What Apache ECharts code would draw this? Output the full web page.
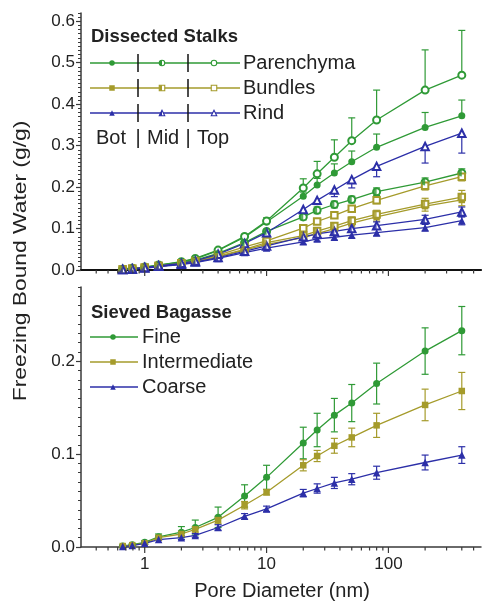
<!DOCTYPE html>
<html><head><meta charset="utf-8">
<script src="https://cdn.jsdelivr.net/npm/echarts@6/dist/echarts.min.js"></script>
<style>html,body{margin:0;padding:0;background:#fff}#c{width:482px;height:602px}</style>
</head><body><div id="c"></div><script>
// ---------------- data ----------------
const PORE = [0.66, 0.79, 1.0, 1.3, 2.0, 2.6, 4.0, 6.6, 10, 20, 26, 36, 50, 80, 200, 400];

// Dissected stalks (top panel)
const PAR_BOT = [0.002, 0.004, 0.007, 0.012, 0.019, 0.027, 0.047, 0.079, 0.116, 0.178, 0.205, 0.234, 0.261, 0.296, 0.344, 0.372];
const PAR_MID = [0.002, 0.004, 0.006, 0.011, 0.017, 0.024, 0.040, 0.066, 0.093, 0.128, 0.144, 0.158, 0.170, 0.189, 0.212, 0.234];
const PAR_TOP = [0.002, 0.004, 0.007, 0.012, 0.020, 0.028, 0.048, 0.081, 0.118, 0.198, 0.232, 0.272, 0.312, 0.362, 0.434, 0.470];
const BUN_BOT = [0.001, 0.003, 0.005, 0.009, 0.015, 0.020, 0.032, 0.048, 0.062, 0.078, 0.088, 0.100, 0.113, 0.128, 0.154, 0.169];
const BUN_MID = [0.001, 0.003, 0.005, 0.009, 0.015, 0.021, 0.033, 0.050, 0.066, 0.083, 0.094, 0.106, 0.119, 0.134, 0.159, 0.176];
const BUN_TOP = [0.001, 0.003, 0.006, 0.010, 0.016, 0.022, 0.036, 0.056, 0.070, 0.101, 0.117, 0.132, 0.148, 0.168, 0.203, 0.225];
const RIND_BOT = [0.001, 0.002, 0.004, 0.008, 0.013, 0.018, 0.028, 0.042, 0.053, 0.068, 0.075, 0.079, 0.084, 0.090, 0.102, 0.119];
const RIND_MID = [0.001, 0.002, 0.005, 0.009, 0.014, 0.019, 0.030, 0.045, 0.058, 0.080, 0.087, 0.093, 0.100, 0.107, 0.122, 0.140];
const RIND_TOP = [0.001, 0.003, 0.006, 0.010, 0.016, 0.022, 0.038, 0.064, 0.090, 0.146, 0.168, 0.193, 0.218, 0.250, 0.298, 0.330];

const PAR_BOT_ERR = [0, 0, 0, 0, 0, 0, 0.002, 0.004, 0.006, 0.010, 0.016, 0.022, 0.026, 0.032, 0.036, 0.038];
const PAR_MID_ERR = [0, 0, 0, 0, 0, 0, 0.002, 0.004, 0.005, 0.007, 0.008, 0.008, 0.008, 0.009, 0.010, 0.010];
const PAR_TOP_ERR = [0, 0, 0, 0, 0, 0, 0.003, 0.005, 0.008, 0.022, 0.030, 0.042, 0.055, 0.072, 0.097, 0.108];
const BUN_BOT_ERR = [0, 0, 0, 0, 0, 0, 0.002, 0.003, 0.004, 0.006, 0.007, 0.008, 0.009, 0.010, 0.012, 0.014];
const BUN_MID_ERR = [0, 0, 0, 0, 0, 0, 0.002, 0.003, 0.004, 0.006, 0.007, 0.008, 0.009, 0.010, 0.014, 0.016];
const BUN_TOP_ERR = [0, 0, 0, 0, 0, 0, 0.002, 0.004, 0.005, 0.006, 0.007, 0.007, 0.008, 0.008, 0.010, 0.010];
const RIND_BOT_ERR = [0, 0, 0, 0, 0, 0, 0.002, 0.003, 0.004, 0.006, 0.006, 0.007, 0.007, 0.008, 0.008, 0.010];
const RIND_MID_ERR = [0, 0, 0, 0, 0, 0, 0.002, 0.003, 0.004, 0.006, 0.007, 0.008, 0.008, 0.009, 0.010, 0.012];
const RIND_TOP_ERR = [0, 0, 0, 0, 0, 0, 0.003, 0.005, 0.006, 0.008, 0.010, 0.016, 0.020, 0.025, 0.040, 0.048];

// Sieved bagasse (bottom panel)
const FINE = [0.001, 0.0025, 0.005, 0.011, 0.016, 0.021, 0.032, 0.055, 0.075, 0.112, 0.126, 0.142, 0.155, 0.176, 0.211, 0.233];
const INTER = [0.001, 0.002, 0.004, 0.010, 0.014, 0.019, 0.029, 0.045, 0.059, 0.088, 0.098, 0.109, 0.118, 0.131, 0.153, 0.168];
const COARSE = [0.0005, 0.0015, 0.004, 0.008, 0.010, 0.0125, 0.021, 0.033, 0.041, 0.058, 0.063, 0.069, 0.073, 0.080, 0.091, 0.099];
const FINE_ERR = [0.001, 0.001, 0.002, 0.003, 0.006, 0.008, 0.011, 0.012, 0.013, 0.017, 0.018, 0.018, 0.020, 0.022, 0.025, 0.026];
const INTER_ERR = [0.001, 0.001, 0.001, 0.002, 0.003, 0.003, 0.004, 0.004, 0.003, 0.006, 0.006, 0.008, 0.010, 0.013, 0.017, 0.020];
const COARSE_ERR = [0.001, 0.001, 0.001, 0.001, 0.002, 0.002, 0.003, 0.003, 0.003, 0.004, 0.005, 0.006, 0.006, 0.007, 0.008, 0.009];

// axis ticks / labels
const X_MAJOR_TICKS = [1, 10, 100];
const X_MINOR_TICKS = [0.4, 0.5, 0.6, 0.7, 0.8, 0.9, 2, 3, 4, 5, 6, 7, 8, 9, 20, 30, 40, 50, 60, 70, 80, 90, 200, 300, 400, 500];
const X_MIN = 0.3, X_MAX = 575;
const Y_TOP_MAX = 0.62, Y_BOT_MAX = 0.28;

// ---------------- styling ----------------
const GREEN = '#2f9a36', OLIVE = '#a59b2b', BLUE = '#2c2fa8';
const AXIS = '#3a3a3a';
const FONT = '"Liberation Sans", Arial, Helvetica, sans-serif';
const HALF = {
  circle: 'path://M10,0 A10,10 0 0 0 10,20 Z M20,10 L20,10',
  triangle: 'path://M10,0 L0,20 L10,20 Z M20,20 L20,20',
  rect: 'path://M0,0 L10,0 L10,20 L0,20 Z M20,0 L20,0'
};
const SIZE = { circle: 7, triangle: 7.5, rect: 6.5 };

const chart = echarts.init(document.getElementById('c'), null, { renderer: 'canvas' });

function pairs(ys) { return PORE.map((x, i) => [x, ys[i]]); }

function lineSeries(name, ys, color, shape, fill, xi, yi) {
  const sym = fill === 'full' ? shape : 'empty' + shape.charAt(0).toUpperCase() + shape.slice(1);
  return {
    type: 'line', name, xAxisIndex: xi, yAxisIndex: yi, data: pairs(ys), z: 3,
    symbol: sym, symbolSize: SIZE[shape], showSymbol: true, silent: true,
    lineStyle: { color, width: 1.3 },
    itemStyle: { color, borderColor: color, borderWidth: fill === 'full' ? 0 : 1.2 }
  };
}
function halfSeries(name, ys, color, shape, xi, yi) {
  return {
    type: 'scatter', name: name + ' half', xAxisIndex: xi, yAxisIndex: yi, data: pairs(ys), z: 4,
    symbol: HALF[shape], symbolKeepAspect: true, symbolSize: SIZE[shape], silent: true,
    itemStyle: { color, borderWidth: 0 }
  };
}
function errSeries(name, ys, err, dir, color, xi, yi) {
  return {
    type: 'custom', name: name + ' err', xAxisIndex: xi, yAxisIndex: yi, z: 2, silent: true, clip: false,
    data: PORE.map((x, i) => [x, ys[i], err[i]]),
    renderItem: function (params, api) {
      const x = api.value(0), y = api.value(1), e = api.value(2);
      if (!(e > 0)) return { type: 'group', children: [] };
      const hi = dir === 'down' ? y : y + e;
      const lo = dir === 'up' ? y : y - e;
      const ph = api.coord([x, hi]), pl = api.coord([x, lo]);
      const st = { stroke: color, lineWidth: 1.2 };
      const ch = [{ type: 'line', shape: { x1: ph[0], y1: ph[1], x2: pl[0], y2: pl[1] }, style: st }];
      if (dir !== 'down') ch.push({ type: 'line', shape: { x1: ph[0] - 3.5, y1: ph[1], x2: ph[0] + 3.5, y2: ph[1] }, style: st });
      if (dir !== 'up') ch.push({ type: 'line', shape: { x1: pl[0] - 3.5, y1: pl[1], x2: pl[0] + 3.5, y2: pl[1] }, style: st });
      return { type: 'group', children: ch };
    }
  };
}
function tickSeries(ticks, len, xi, yi) {
  return {
    type: 'custom', xAxisIndex: xi, yAxisIndex: yi, z: 5, silent: true, clip: false,
    data: ticks.map(v => [v, 0]),
    renderItem: function (params, api) {
      const p = api.coord([api.value(0), 0]);
      return { type: 'line', shape: { x1: p[0], y1: p[1], x2: p[0], y2: p[1] + len }, style: { stroke: AXIS, lineWidth: 1.2 } };
    }
  };
}

const TOP_SERIES = [
  ['Parenchyma Bot', PAR_BOT, PAR_BOT_ERR, 'up', GREEN, 'circle', 'full'],
  ['Parenchyma Mid', PAR_MID, PAR_MID_ERR, 'both', GREEN, 'circle', 'half'],
  ['Parenchyma Top', PAR_TOP, PAR_TOP_ERR, 'up', GREEN, 'circle', 'open'],
  ['Bundles Bot', BUN_BOT, BUN_BOT_ERR, 'both', OLIVE, 'rect', 'full'],
  ['Bundles Mid', BUN_MID, BUN_MID_ERR, 'up', OLIVE, 'rect', 'half'],
  ['Bundles Top', BUN_TOP, BUN_TOP_ERR, 'down', OLIVE, 'rect', 'open'],
  ['Rind Bot', RIND_BOT, RIND_BOT_ERR, 'both', BLUE, 'triangle', 'full'],
  ['Rind Mid', RIND_MID, RIND_MID_ERR, 'both', BLUE, 'triangle', 'half'],
  ['Rind Top', RIND_TOP, RIND_TOP_ERR, 'down', BLUE, 'triangle', 'open']
];
const BOT_SERIES = [
  ['Fine', FINE, FINE_ERR, 'both', GREEN, 'circle', 'full'],
  ['Intermediate', INTER, INTER_ERR, 'both', OLIVE, 'rect', 'full'],
  ['Coarse', COARSE, COARSE_ERR, 'both', BLUE, 'triangle', 'full']
];

const series = [];
function addSet(list, xi, yi) {
  list.forEach(([name, ys, err, dir, color, shape, fill]) => {
    series.push(errSeries(name, ys, err, dir, color, xi, yi));
    series.push(lineSeries(name, ys, color, shape, fill, xi, yi));
    if (fill === 'half') series.push(halfSeries(name, ys, color, shape, xi, yi));
  });
}
addSet(TOP_SERIES, 0, 0);
addSet(BOT_SERIES, 2, 2);
series.push(tickSeries(X_MAJOR_TICKS, 6, 0, 0), tickSeries(X_MINOR_TICKS, 3.5, 0, 0));
series.push(tickSeries(X_MAJOR_TICKS, 6, 2, 2), tickSeries(X_MINOR_TICKS, 3.5, 2, 2));

// ---------------- legends (graphic) ----------------
function marker(shape, fill, cx, cy, color, s) {
  const out = [];
  const h = s / 2;
  const open = { fill: '#fff', stroke: color, lineWidth: 1.1 };
  const solid = { fill: color };
  if (shape === 'circle') {
    out.push({ type: 'circle', shape: { cx, cy, r: h }, style: fill === 'full' ? solid : open });
    if (fill === 'half') out.push({ type: 'sector', shape: { cx, cy, r: h, r0: 0, startAngle: Math.PI / 2, endAngle: Math.PI * 1.5 }, style: solid });
  } else if (shape === 'rect') {
    out.push({ type: 'rect', shape: { x: cx - h, y: cy - h, width: s, height: s }, style: fill === 'full' ? solid : open });
    if (fill === 'half') out.push({ type: 'rect', shape: { x: cx - h, y: cy - h, width: h, height: s }, style: solid });
  } else {
    out.push({ type: 'polygon', shape: { points: [[cx, cy - h], [cx + h, cy + h], [cx - h, cy + h]] }, style: fill === 'full' ? solid : open });
    if (fill === 'half') out.push({ type: 'polygon', shape: { points: [[cx, cy - h], [cx, cy + h], [cx - h, cy + h]] }, style: solid });
  }
  return out;
}
function text(t, x, y, size, opts) {
  return Object.assign({ type: 'text', x, y, z: 10, style: { text: t, font: size + 'px ' + FONT, fill: '#222', align: 'left', verticalAlign: 'middle' } }, opts || {});
}

const graphic = [];
// top legend
graphic.push(text('Dissected Stalks', 91, 37, 18.5, {}));
graphic[graphic.length - 1].style.font = 'bold 18.5px ' + FONT;
const TOP_LEG = [['Parenchyma', GREEN, 'circle', 63], ['Bundles', OLIVE, 'rect', 88], ['Rind', BLUE, 'triangle', 113]];
TOP_LEG.forEach(([label, color, shape, cy]) => {
  graphic.push({ type: 'line', z: 9, shape: { x1: 90, y1: cy, x2: 240, y2: cy }, style: { stroke: color, lineWidth: 1.3 } });
  graphic.push({ type: 'line', z: 9, shape: { x1: 138, y1: cy - 9, x2: 138, y2: cy + 9 }, style: { stroke: '#111', lineWidth: 1.5 } });
  graphic.push({ type: 'line', z: 9, shape: { x1: 188, y1: cy - 9, x2: 188, y2: cy + 9 }, style: { stroke: '#111', lineWidth: 1.5 } });
  [['full', 112], ['half', 162], ['open', 214]].forEach(([f, cx]) => marker(shape, f, cx, cy, color, 5.5).forEach(m => { m.z = 10; graphic.push(m); }));
  graphic.push(text(label, 243, cy, 20));
});
graphic.push(text('Bot', 96, 138, 20));
graphic.push(text('|', 138, 138, 20, {}));
graphic[graphic.length - 1].style.align = 'center';
graphic.push(text('Mid', 147, 138, 20));
graphic.push(text('|', 188, 138, 20, {}));
graphic[graphic.length - 1].style.align = 'center';
graphic.push(text('Top', 197, 138, 20));

// bottom legend
graphic.push(text('Sieved Bagasse', 91, 312.5, 18.5));
graphic[graphic.length - 1].style.font = 'bold 18.5px ' + FONT;
BOT_SERIES.forEach(([name, , , , color, shape], i) => {
  const cy = 337 + i * 25;
  graphic.push({ type: 'line', z: 9, shape: { x1: 90, y1: cy, x2: 138, y2: cy }, style: { stroke: color, lineWidth: 1.3 } });
  marker(shape, 'full', 113, cy, color, 5.5).forEach(m => { m.z = 10; graphic.push(m); });
  graphic.push(text(name, 142, cy, 20));
});

// axis titles
graphic.push(text('Freezing Bound Water (g/g)', 21, 261, 19, { rotation: Math.PI / 2, scaleX: 1.2 }));
graphic[graphic.length - 1].style.align = 'center';
graphic.push(text('Pore Diameter (nm)', 282, 591, 20));
graphic[graphic.length - 1].style.align = 'center';

// ---------------- axes ----------------
function isPow10(v) { const l = Math.log10(v); return Math.abs(l - Math.round(l)) < 1e-6; }
const axisLine = { show: true, lineStyle: { color: AXIS, width: 1.5 } };
function logX(grid, labels, position) {
  return {
    type: 'log', logBase: 10, gridIndex: grid, min: X_MIN, max: X_MAX, position: position || 'bottom',
    axisLine: position === 'top' ? { show: true, lineStyle: { color: '#111', width: 2 } } : axisLine,
    axisTick: { show: false }, splitLine: { show: false }, minorTick: { show: false },
    axisLabel: {
      show: labels, margin: 9, fontSize: 17, fontFamily: FONT, color: '#222',
      showMinLabel: false, showMaxLabel: false,
      formatter: v => isPow10(v) ? String(Math.round(v)) : ''
    }
  };
}
function yMain(grid, max) {
  return {
    type: 'value', gridIndex: grid, min: 0, max, interval: 0.1, position: 'left',
    axisLine, splitLine: { show: false },
    axisTick: { show: true, length: 5, lineStyle: { color: AXIS, width: 1.2 } },
    axisLabel: { margin: 6, fontSize: 17, fontFamily: FONT, color: '#222', showMaxLabel: false, formatter: v => v.toFixed(1) }
  };
}
function yMinor(grid, max) {
  return {
    type: 'value', gridIndex: grid, min: 0, max, interval: 0.01, position: 'left',
    axisLine: { show: false }, splitLine: { show: false },
    axisTick: { show: true, length: 3, lineStyle: { color: AXIS, width: 1 } },
    axisLabel: { show: false }
  };
}

chart.setOption({
  animation: false,
  backgroundColor: '#fff',
  grid: [
    { left: 81, top: 13, width: 400, height: 257, outerBoundsMode: 'none' },
    { left: 81, top: 287, width: 400, height: 260, outerBoundsMode: 'none' }
  ],
  xAxis: [logX(0, false), logX(0, false, 'top'), logX(1, true)],
  yAxis: [yMain(0, Y_TOP_MAX), yMinor(0, Y_TOP_MAX), yMain(1, Y_BOT_MAX), yMinor(1, Y_BOT_MAX)],
  series,
  graphic
});
</script></body></html>
